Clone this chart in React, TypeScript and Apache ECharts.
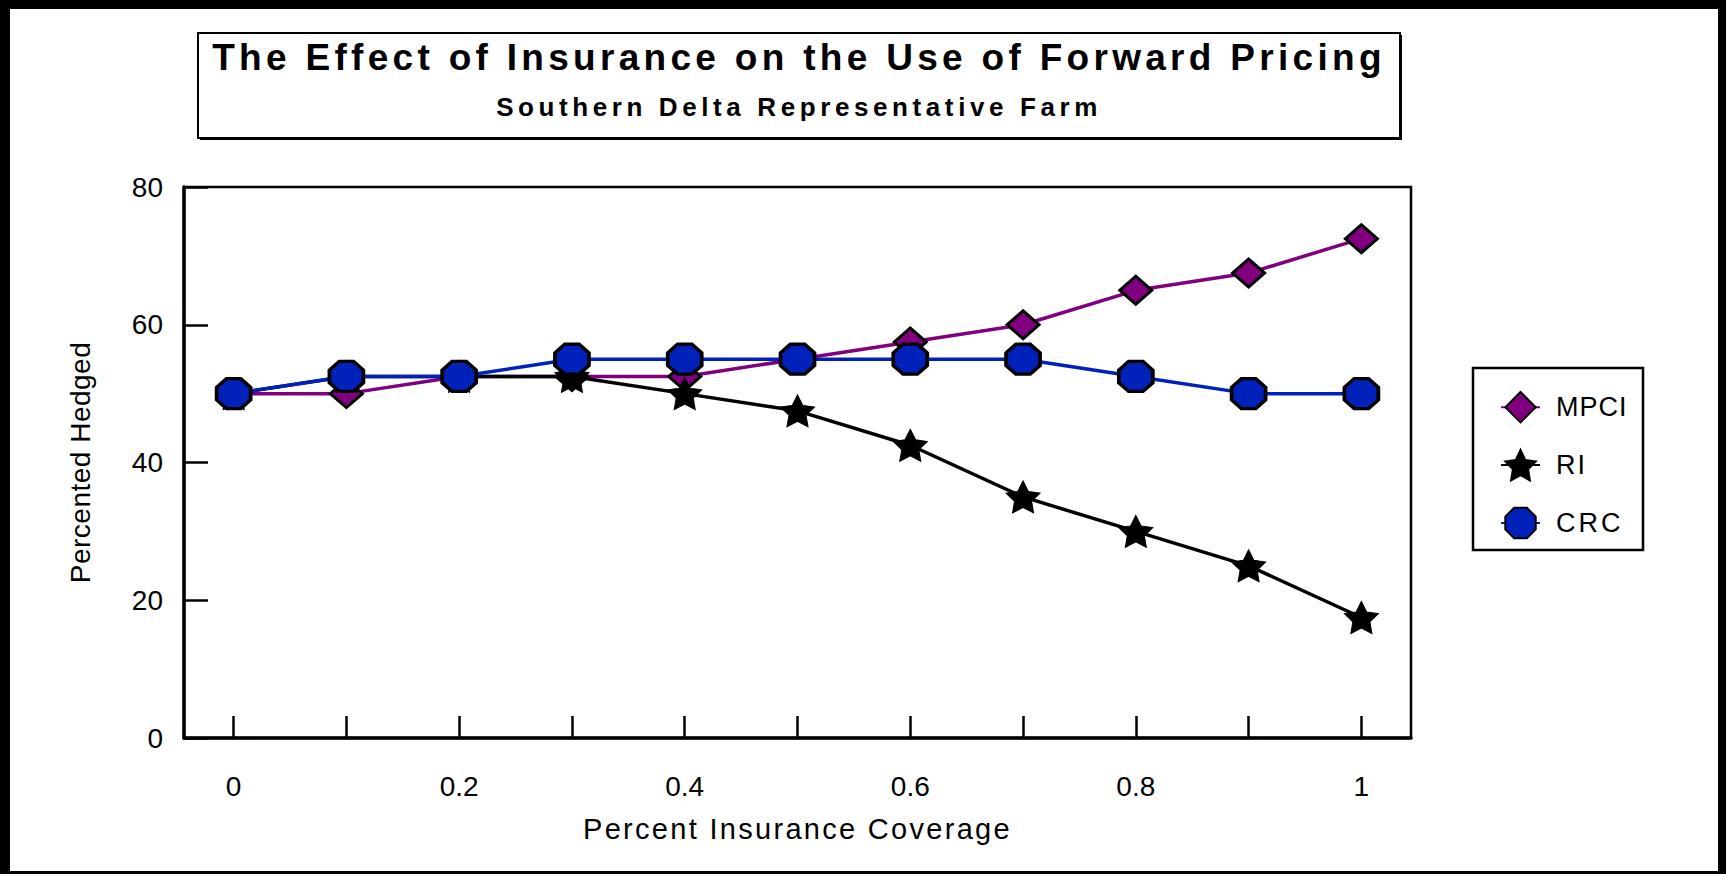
import React, { useEffect, useRef } from "react";
import * as echarts from "echarts";

// Chart texts
const TITLE = "The Effect of Insurance on the Use of Forward Pricing";
const SUBTITLE = "Southern Delta Representative Farm";
const X_NAME = "Percent Insurance Coverage";
const Y_NAME = "Percented Hedged";

// Insurance coverage levels (x) and percent hedged for each insurance type
const coverage = [0, 0.1, 0.2, 0.3, 0.4, 0.5, 0.6, 0.7, 0.8, 0.9, 1];
const mpci = [50, 50, 52.5, 52.5, 52.5, 55, 57.5, 60, 65, 67.5, 72.5];
const ri = [50, 52.5, 52.5, 52.5, 50, 47.5, 42.5, 35, 30, 25, 17.5];
const crc = [50, 52.5, 52.5, 55, 55, 55, 55, 55, 52.5, 50, 50];

// Axis ticks and labels
const xTickValues = [0, 0.1, 0.2, 0.3, 0.4, 0.5, 0.6, 0.7, 0.8, 0.9, 1];
const xLabelValues = [0, 0.2, 0.4, 0.6, 0.8, 1];
const yMin = 0;
const yMax = 80;
const yStep = 20;

const FONT = '"Liberation Sans", Arial, Helvetica, sans-serif';

const PURPLE = "#800080";
const BLUE = "#0022BB";

const OCTAGON = "path://M29 0L71 0L100 29L100 71L71 100L29 100L0 71L0 29Z";
const STAR =
  "path://M0 -100L29.4 -40.5L95.1 -30.9L47.6 15.5L58.8 80.9L0 50L-58.8 80.9L-47.6 15.5L-95.1 -30.9L-29.4 -40.5Z";

// Extra tracking for the wide-set lettering of the texts
const LETTER_SPACING: Record<string, number> = {
  [TITLE]: 4.3,
  [SUBTITLE]: 4.6,
  [X_NAME]: 2.3,
  [Y_NAME]: 0.5,
  MPCI: 1,
  RI: 2,
  CRC: 3,
};

const pairs = (ys: number[]) => coverage.map((x, i) => [x, ys[i]]);

export default function App() {
  const ref = useRef<HTMLDivElement>(null);

  useEffect(() => {
    const el = ref.current;
    if (!el) return;
    const chart = echarts.init(el, undefined, { renderer: "svg" });

    const applySpacing = () => {
      el.querySelectorAll("text").forEach((t) => {
        const s = LETTER_SPACING[(t.textContent || "").trim()];
        if (s !== undefined) t.setAttribute("letter-spacing", `${s}px`);
      });
    };

    const textBase = { fontFamily: FONT, color: "#000" };

    const option: echarts.EChartsOption = {
      animation: false,
      backgroundColor: "#fff",
      grid: {
        left: 184,
        right: 315,
        top: 187,
        bottom: 136,
        show: true,
        borderColor: "#000",
        borderWidth: 2.5,
        backgroundColor: "transparent",
      },
      xAxis: {
        type: "value",
        min: -0.044,
        max: 1.044,
        name: X_NAME,
        nameLocation: "middle",
        nameGap: 76,
        nameTextStyle: { ...textBase, fontSize: 29 },
        axisLine: { show: true, onZero: false, lineStyle: { color: "#000", width: 3.5 } },
        axisTick: {
          show: true,
          inside: true,
          length: 22,
          lineStyle: { color: "#000", width: 2.5 },
          customValues: xTickValues,
        } as any,
        axisLabel: {
          ...textBase,
          fontSize: 28,
          margin: 34,
          customValues: xLabelValues,
          formatter: (v: number) => String(Math.round(v * 10) / 10),
        } as any,
        splitLine: { show: false },
      },
      yAxis: {
        type: "value",
        min: yMin,
        max: yMax,
        interval: yStep,
        name: Y_NAME,
        nameLocation: "middle",
        nameGap: 90,
        nameTextStyle: { ...textBase, fontSize: 28 },
        axisLine: { show: true, onZero: false, lineStyle: { color: "#000", width: 3.5 } },
        axisTick: { show: true, inside: true, length: 24, lineStyle: { color: "#000", width: 2.5 } },
        axisLabel: { ...textBase, fontSize: 28, margin: 21 },
        splitLine: { show: false },
      },
      legend: {
        orient: "vertical",
        left: 1500,
        top: 391,
        padding: 0,
        itemWidth: 39,
        itemHeight: 38,
        itemGap: 25.5,
        selectedMode: false,
        data: ["MPCI", "RI", "CRC"],
        textStyle: { ...textBase, fontSize: 27, padding: [0, 0, 0, 11] },
      },
      series: [
        {
          name: "MPCI",
          type: "line",
          data: pairs(mpci),
          symbol: "diamond",
          symbolSize: [32, 28],
          lineStyle: { color: PURPLE, width: 3.5 },
          itemStyle: { color: PURPLE, borderColor: "#000", borderWidth: 3 },
          silent: true,
        },
        {
          name: "RI",
          type: "line",
          data: pairs(ri),
          symbol: STAR,
          symbolSize: [34, 32],
          lineStyle: { color: "#000", width: 3.5 },
          itemStyle: { color: "#000", borderColor: "#000", borderWidth: 1 },
          silent: true,
        },
        {
          name: "CRC",
          type: "line",
          data: pairs(crc),
          symbol: OCTAGON,
          symbolSize: [34, 30],
          lineStyle: { color: BLUE, width: 3.5 },
          itemStyle: { color: BLUE, borderColor: "#000", borderWidth: 3.5 },
          silent: true,
        },
      ],
      graphic: [
        // page frame
        { type: "rect", shape: { x: 0, y: 0, width: 1726, height: 9 }, style: { fill: "#000" }, silent: true },
        { type: "rect", shape: { x: 0, y: 0, width: 10, height: 874 }, style: { fill: "#000" }, silent: true },
        { type: "rect", shape: { x: 1718, y: 0, width: 8, height: 874 }, style: { fill: "#000" }, silent: true },
        { type: "rect", shape: { x: 0, y: 871, width: 1726, height: 3 }, style: { fill: "#000" }, silent: true },
        // title box
        {
          type: "rect",
          shape: { x: 198, y: 33, width: 1202, height: 105 },
          style: { fill: "#fff", stroke: "#000", lineWidth: 2 },
          silent: true,
        },
        {
          type: "polyline",
          shape: { points: [[1401, 35], [1401, 139], [200, 139]] },
          style: { fill: "none", stroke: "#000", lineWidth: 2 },
          silent: true,
        },
        {
          type: "text",
          x: 799,
          y: 57,
          style: {
            text: TITLE,
            fontSize: 37,
            fontWeight: "bold",
            fontFamily: FONT,
            fill: "#000",
            align: "center",
            verticalAlign: "middle",
          },
          silent: true,
        },
        {
          type: "text",
          x: 799,
          y: 107,
          style: {
            text: SUBTITLE,
            fontSize: 26,
            fontWeight: "bold",
            fontFamily: FONT,
            fill: "#000",
            align: "center",
            verticalAlign: "middle",
          },
          silent: true,
        },
        // legend box
        {
          type: "rect",
          shape: { x: 1473, y: 368, width: 170, height: 182 },
          style: { fill: "none", stroke: "#000", lineWidth: 2.5 },
          silent: true,
        },
      ],
    };

    chart.on("finished", applySpacing);
    chart.setOption(option);
    applySpacing();
    const raf = requestAnimationFrame(applySpacing);

    return () => {
      cancelAnimationFrame(raf);
      chart.dispose();
    };
  }, []);

  return (
    <div
      ref={ref}
      style={{ position: "absolute", left: 0, top: 0, width: 1726, height: 874, background: "#fff" }}
    />
  );
}
